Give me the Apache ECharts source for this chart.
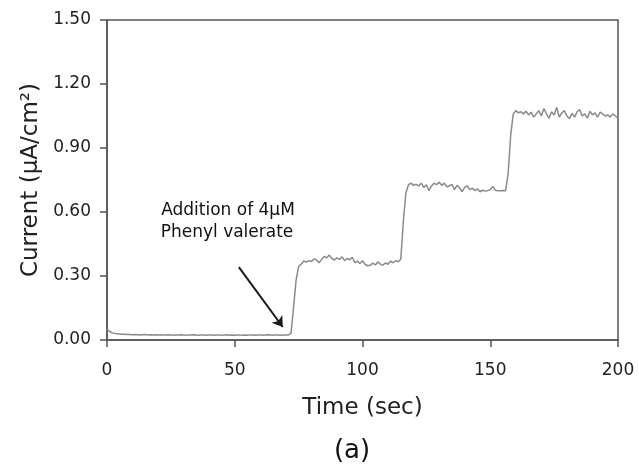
<!DOCTYPE html>
<html>
<head>
<meta charset="utf-8">
<script src="https://cdn.jsdelivr.net/npm/echarts@6/dist/echarts.min.js"></script>
<style>
  html, body { margin: 0; padding: 0; background: #fff; }
  #main { width: 639px; height: 472px; }
</style>
</head>
<body>
<div id="main"></div>
<script>
// time (sec), one reading per second
const times = [];
for (let t = 0; t <= 200; t++) times.push(t);

// current (uA/cm2)
const current = [
  0.052, 0.040, 0.034, 0.031, 0.029, 0.028, 0.027, 0.027, 0.026, 0.026,
  0.025, 0.026, 0.025, 0.024, 0.025, 0.026, 0.024, 0.025, 0.024, 0.025,
  0.024, 0.025, 0.023, 0.024, 0.025, 0.024, 0.022, 0.024, 0.023, 0.025,
  0.023, 0.022, 0.024, 0.023, 0.025, 0.023, 0.022, 0.024, 0.023, 0.022,
  0.024, 0.023, 0.022, 0.023, 0.024, 0.022, 0.023, 0.025, 0.022, 0.023,
  0.022, 0.023, 0.024, 0.022, 0.023, 0.022, 0.024, 0.023, 0.022, 0.023,
  0.024, 0.022, 0.023, 0.025, 0.023, 0.022, 0.024, 0.023, 0.022, 0.024,
  0.023, 0.024, 0.030, 0.150, 0.280, 0.345, 0.355, 0.370, 0.365, 0.372,
  0.368, 0.380, 0.375, 0.362, 0.378, 0.392, 0.385, 0.398, 0.382, 0.375,
  0.385, 0.378, 0.390, 0.372, 0.382, 0.376, 0.388, 0.362, 0.370, 0.358,
  0.372, 0.355, 0.348, 0.350, 0.360, 0.352, 0.366, 0.356, 0.350, 0.362,
  0.355, 0.370, 0.362, 0.372, 0.366, 0.380, 0.560, 0.690, 0.728, 0.735,
  0.725, 0.730, 0.722, 0.735, 0.715, 0.728, 0.700, 0.722, 0.735, 0.728,
  0.740, 0.725, 0.735, 0.718, 0.722, 0.730, 0.705, 0.725, 0.712, 0.695,
  0.715, 0.722, 0.705, 0.712, 0.700, 0.708, 0.695, 0.702, 0.698, 0.700,
  0.705, 0.720, 0.702, 0.700, 0.700, 0.701, 0.700, 0.780, 0.960, 1.060,
  1.075, 1.065, 1.070, 1.060, 1.072, 1.055, 1.068, 1.045, 1.060, 1.075,
  1.050, 1.085, 1.060, 1.040, 1.070, 1.055, 1.090, 1.045, 1.065, 1.075,
  1.050, 1.038, 1.062, 1.045, 1.070, 1.080, 1.050, 1.060, 1.040, 1.072,
  1.055, 1.065, 1.045, 1.068, 1.060, 1.050, 1.055, 1.045, 1.060, 1.050,
  1.040
];

// arrow of the annotation: [time, current] from tail to head
const arrowFrom = [51.6, 0.342];
const arrowTo = [68.8, 0.061];
const noteLines = ['Addition of 4µM', 'Phenyl valerate'];

const xTicks = [0, 50, 100, 150, 200];
const yTicks = [0, 0.3, 0.6, 0.9, 1.2, 1.5];

const font = 'DejaVu Sans';
const axisColor = '#555';

var myChart = echarts.init(document.getElementById('main'));

const option = {
    backgroundColor: '#fff',
    animation: false,
    grid: {
        left: 107, right: 21, top: 20, bottom: 132,
        show: true, borderColor: axisColor, borderWidth: 1.5
    },
    xAxis: {
        type: 'value',
        min: xTicks[0], max: xTicks[xTicks.length - 1], interval: 50,
        name: 'Time (sec)',
        nameLocation: 'middle',
        nameGap: 57,
        nameTextStyle: { fontFamily: font, fontSize: 23, color: '#222' },
        axisLine: { show: true, lineStyle: { color: axisColor, width: 1.5 } },
        axisTick: { show: true, length: 7, lineStyle: { color: axisColor, width: 1.5 } },
        axisLabel: { margin: 22, fontFamily: font, fontSize: 17, color: '#222' },
        splitLine: { show: false }
    },
    yAxis: {
        type: 'value',
        min: yTicks[0], max: yTicks[yTicks.length - 1], interval: 0.3,
        name: 'Current (µA/cm²)',
        nameLocation: 'middle',
        nameGap: 64,
        nameTextStyle: { fontFamily: font, fontSize: 23, color: '#222' },
        axisLine: { show: true, lineStyle: { color: axisColor, width: 1.5 } },
        axisTick: { show: true, length: 7, lineStyle: { color: axisColor, width: 1.5 } },
        axisLabel: {
            margin: 16, fontFamily: font, fontSize: 17, color: '#222',
            formatter: v => v.toFixed(2)
        },
        splitLine: { show: false }
    },
    series: [
        {
            type: 'line',
            data: times.map((t, i) => [t, current[i]]),
            showSymbol: false,
            lineStyle: { color: '#8a8a8a', width: 1.5 },
            markLine: {
                silent: true,
                symbol: ['none', 'arrow'],
                symbolSize: 10,
                label: { show: false },
                lineStyle: { color: '#1a1a1a', width: 2, type: 'solid' },
                data: [[{ coord: arrowFrom }, { coord: arrowTo }]]
            }
        }
    ],
    graphic: [
        {
            type: 'text', x: 228, y: 211,
            style: {
                text: noteLines[0], font: '17px "' + font + '"', fill: '#111',
                textAlign: 'center', textVerticalAlign: 'middle'
            }
        },
        {
            type: 'text', x: 227, y: 233,
            style: {
                text: noteLines[1], font: '17px "' + font + '"', fill: '#111',
                textAlign: 'center', textVerticalAlign: 'middle'
            }
        },
        {
            type: 'text', x: 352, y: 451,
            style: {
                text: '(a)', font: '26px "' + font + '"', fill: '#111',
                textAlign: 'center', textVerticalAlign: 'middle'
            }
        }
    ]
};

myChart.setOption(option);
</script>
</body>
</html>
